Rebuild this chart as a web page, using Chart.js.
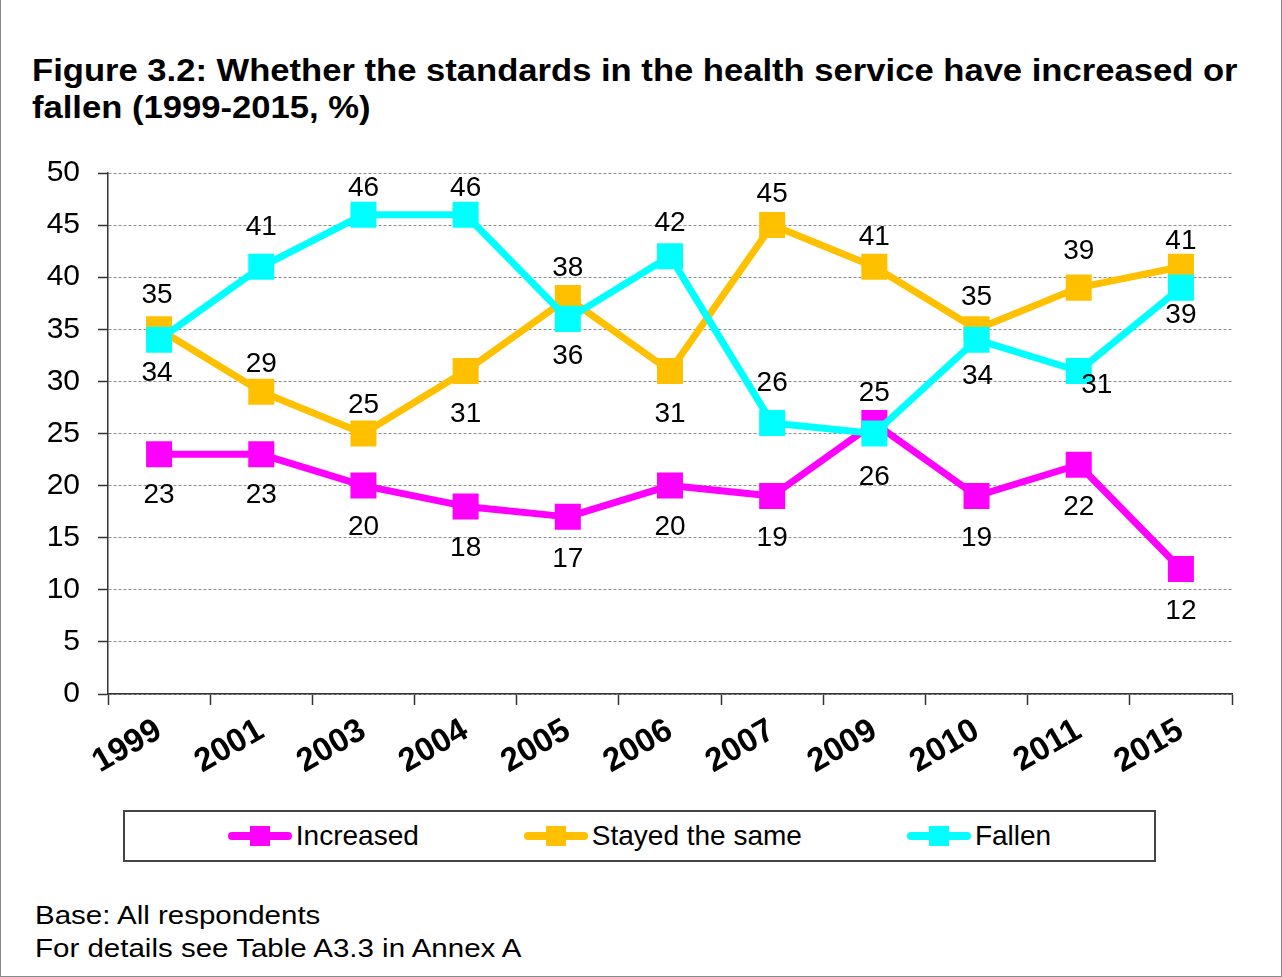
<!DOCTYPE html>
<html>
<head>
<meta charset="utf-8">
<title>Figure 3.2</title>
<script src="https://cdn.jsdelivr.net/npm/chart.js@4.4.1/dist/chart.umd.min.js"></script>
<style>
  html, body { margin:0; padding:0; background:#fff; }
  #page { position:relative; width:1282px; height:977px; box-sizing:border-box;
          border:1px solid #8a8a8a; border-top:none; overflow:hidden;
          font-family:"Liberation Sans", Arial, sans-serif; color:#000; }
  #title { position:absolute; left:31px; top:52px; font-weight:bold; font-size:31px; line-height:37px;
           white-space:nowrap; transform:scaleX(1.116); transform-origin:0 0; }
  #chart { position:absolute; left:-1px; top:137px; }
  #legend { position:absolute; left:122px; top:810px; width:1033px; height:52px; box-sizing:border-box;
            border:2px solid #444; display:flex; justify-content:center; align-items:center; gap:105px; }
  .item { display:flex; align-items:center; font-size:28px; }
  .swatch { position:relative; width:64px; height:8px; border-radius:4px; margin-right:4px; }
  .swatch i { position:absolute; left:22px; top:-6px; width:20px; height:20px; background:inherit; }
  #notes { position:absolute; left:34px; top:899px; font-size:25px; line-height:33px;
           white-space:nowrap; transform:scaleX(1.18); transform-origin:0 0; }
</style>
</head>
<body>
<div id="page">
  <div id="title">Figure 3.2: Whether the standards in the health service have increased or<br>fallen (1999-2015, %)</div>
  <canvas id="chart" width="1282" height="663"></canvas>
  <div id="legend"></div>
  <div id="notes">Base: All respondents<br>For details see Table A3.3 in Annex A</div>
</div>
<script>
(function(){
  'use strict';

  const years      = ['1999','2001','2003','2004','2005','2006','2007','2009','2010','2011','2015'];
  const increased  = [23, 23, 20, 18, 17, 20, 19, 26, 19, 22, 12];
  const stayedSame = [35, 29, 25, 31, 38, 31, 45, 41, 35, 39, 41];
  const fallen     = [34, 41, 46, 46, 36, 42, 26, 25, 34, 31, 39];

  const seriesNames  = ['Increased', 'Stayed the same', 'Fallen'];
  const seriesColors = ['#ff00ff', '#ffc000', '#00ffff'];

  // where each value label sits relative to its point, [dx, dy] in px
  const increasedLabelPos  = [[0,41],[0,41],[0,42],[0,42],[0,42],[0,42],[0,42],[0,54],[0,42],[0,43],[0,42]];
  const stayedSameLabelPos = [[-2,-34],[0,-28],[0,-28],[0,43],[0,-30],[0,43],[0,-31],[0,-29],[0,-32],[0,-36],[0,-25]];
  const fallenLabelPos     = [[-2,34],[0,-39],[0,-26],[0,-26],[0,37],[0,-33],[0,-40],[0,-40],[1,37],[18,14],[0,28]];

  const FONT = '"Liberation Sans", Arial, sans-serif';

  function $(s, el){ if(!el) el = document; return el.querySelector(s); }

  const valueLabels = {
    id: 'valueLabels',
    afterDatasetsDraw(chart){
      const ctx = chart.ctx;
      ctx.save();
      ctx.font = '28px ' + FONT;
      ctx.fillStyle = '#000';
      ctx.textAlign = 'center';
      ctx.textBaseline = 'middle';
      chart.data.datasets.forEach((ds, di) => {
        chart.getDatasetMeta(di).data.forEach((pt, i) => {
          const off = ds.labelPos[i];
          ctx.fillText(String(ds.data[i]), pt.x + off[0], pt.y + off[1]);
        });
      });
      ctx.restore();
    }
  };

  function line(idx, data, labelPos, order){
    return {
      label: seriesNames[idx],
      data,
      labelPos,
      order,
      borderColor: seriesColors[idx],
      backgroundColor: seriesColors[idx],
      borderWidth: 7,
      borderJoinStyle: 'round',
      borderCapStyle: 'round',
      pointStyle: 'rect',
      pointRadius: 18.4,
      pointHoverRadius: 18.4,
      pointBorderWidth: 0,
      pointBackgroundColor: seriesColors[idx],
      tension: 0
    };
  }

  new Chart($('#chart'), {
    type: 'line',
    data: {
      labels: years,
      datasets: [
        line(0, increased, increasedLabelPos, 2),
        line(1, stayedSame, stayedSameLabelPos, 1),
        line(2, fallen, fallenLabelPos, 0)
      ]
    },
    options: {
      responsive: false,
      animation: false,
      devicePixelRatio: 1,
      layout: { padding: { top: 9, right: 50, left: 0, bottom: 0 } },
      plugins: { legend: { display: false }, tooltip: { enabled: false } },
      scales: {
        x: {
          type: 'category',
          offset: true,
          afterFit: s => { s.height = 106; },
          grid: { drawOnChartArea: false, offset: true, tickLength: 11, tickColor: '#333', tickWidth: 1.5 },
          border: { color: '#333', width: 1.5 },
          ticks: {
            autoSkip: false, minRotation: 30, maxRotation: 30, padding: 6,
            color: '#000', font: { family: FONT, size: 33, weight: 'bold' }
          }
        },
        y: {
          min: 0, max: 50,
          afterFit: s => { s.width = 108; },
          grid: { color: '#8c8c8c', lineWidth: 1, tickLength: 10, tickColor: '#333', tickWidth: 1.5, tickBorderDash: [] },
          border: { color: '#333', width: 1.5, dash: [3, 2] },
          ticks: { stepSize: 5, padding: 18, color: '#000', font: { family: FONT, size: 30 } }
        }
      }
    },
    plugins: [valueLabels]
  });

  // legend below the plot: line + square marker, then the series name
  const legend = $('#legend');
  seriesNames.forEach((name, i) => {
    const item = document.createElement('div');
    item.className = 'item';
    const sw = document.createElement('span');
    sw.className = 'swatch';
    sw.style.background = seriesColors[i];
    sw.appendChild(document.createElement('i'));
    item.appendChild(sw);
    item.appendChild(document.createTextNode(name));
    legend.appendChild(item);
  });
})();
</script>
</body>
</html>
